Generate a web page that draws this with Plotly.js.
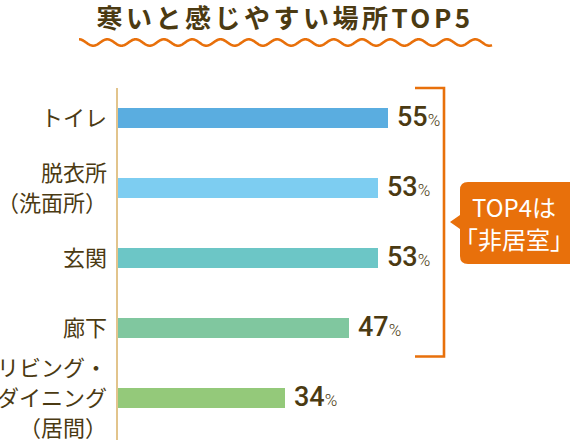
<!DOCTYPE html>
<html>
<head>
<meta charset="utf-8">
<script src="https://cdn.plot.ly/plotly-3.0.1.min.js"></script>
<style>
  html, body { margin: 0; padding: 0; background: #ffffff; }
  #chart { width: 570px; height: 440px; }
</style>
</head>
<body>
<div id="chart"></div>
<script>
// Places where people most often feel cold (top 5), share of respondents in %
const titleText = '寒いと感じやすい場所TOP5';
const categories = ['トイレ', '脱衣所<br>（洗面所）', '玄関', '廊下', 'リビング・<br>ダイニング<br>（居間）'];
const percents = [55, 53, 53, 47, 34];
const calloutLines = ['TOP4は', '「非居室」'];

const barColors = ['#5aade0', '#7dcdf1', '#6cc6c6', '#80c79f', '#94c97a'];
const ink = '#4b3a12';
const accent = '#e8700b';
const baseFont = '"Noto Sans CJK JP", "Noto Sans", sans-serif';

// Plot frame in pixels
const W = 570, H = 440;
const M = { l: 118, r: 0, t: 88, b: 0 };
const plotW = W - M.l - M.r;
const plotH = H - M.t - M.b;
const pxPerUnit = 4.91;        // horizontal scale: pixels per percentage point
const rowGap = 70;             // vertical spacing between categories
const firstRowPx = 118;        // centre of the first bar
const labelLineGap = 30;       // line spacing of the category labels

// pixel -> paper coordinates for decorative shapes
const px = x => (x - M.l) / plotW;
const py = y => (M.t + plotH - y) / plotH;
function pathFrom(points) {
  return points.map((p, i) => (i ? 'L' : 'M') + px(p[0]).toFixed(5) + ',' + py(p[1]).toFixed(5)).join(' ');
}

const idx = categories.map((_, i) => i);

const bars = {
  type: 'bar',
  orientation: 'h',
  x: percents,
  y: idx,
  width: 20 / rowGap,
  marker: { color: barColors, line: { width: 0 } },
  hoverinfo: 'skip',
  showlegend: false
};

// category labels, one annotation per line so the line spacing can be set
const categoryNotes = [];
categories.forEach((c, i) => {
  const lines = c.split('<br>');
  lines.forEach((t, k) => {
    categoryNotes.push({
      x: 0, y: i, xref: 'paper', yref: 'y',
      xanchor: 'right', yanchor: 'middle', xshift: -9,
      yshift: 2 - (k - (lines.length - 1) / 2) * labelLineGap,
      showarrow: false, text: t,
      font: { family: baseFont, size: 22, color: ink }
    });
  });
});

// value labels: large number + small percent sign
const valueNotes = percents.map((v, i) => ({
  x: v, y: i, xref: 'x', yref: 'y',
  xanchor: 'left', yanchor: 'middle', xshift: 7, yshift: 1,
  showarrow: false,
  text: '<span style="font-weight:500">' + v + '</span>' +
        '<span style="font-size:17px;font-weight:300">%</span>',
  font: { family: 'Roboto, "Noto Sans", sans-serif', size: 27, color: ink }
}));

// callout lines inside the speech bubble
const calloutNotes = calloutLines.map((t, i) => ({
  x: px(514), y: py(i === 0 ? 206 : 238.5), xref: 'paper', yref: 'paper',
  xanchor: 'center', yanchor: 'middle', showarrow: false,
  text: t,
  font: { family: baseFont, size: 24, color: '#ffffff' }
}));

// wavy underline below the title
const wave = [];
const x0 = 79, x1 = 492, period = 28.3, amp = 3.2, yc = 42.5;
for (let x = x0; x <= x1 + 0.01; x += 0.5) {
  wave.push([x, yc - amp * Math.cos(2 * Math.PI * (x - x0) / period)]);
}

// bracket grouping the first four rows
const bracket = [[415, 88], [444, 88], [444, 356.5], [415, 356.5]];

// speech bubble with rounded corners
const bx0 = 460, bx1 = 575, by0 = 182, by1 = 264, r = 8;
const bubblePath =
  'M' + px(bx0 + r) + ',' + py(by0) +
  ' L' + px(bx1) + ',' + py(by0) +
  ' L' + px(bx1) + ',' + py(by1) +
  ' L' + px(bx0 + r) + ',' + py(by1) +
  ' Q' + px(bx0) + ',' + py(by1) + ' ' + px(bx0) + ',' + py(by1 - r) +
  ' L' + px(bx0) + ',' + py(229) +
  ' L' + px(450) + ',' + py(222) +
  ' L' + px(bx0) + ',' + py(215) +
  ' L' + px(bx0) + ',' + py(by0 + r) +
  ' Q' + px(bx0) + ',' + py(by0) + ' ' + px(bx0 + r) + ',' + py(by0) + ' Z';

const layout = {
  width: W, height: H,
  margin: M,
  paper_bgcolor: '#ffffff',
  plot_bgcolor: '#ffffff',
  font: { family: baseFont, color: ink },
  title: {
    text: '<span style="letter-spacing:3.5px">' + titleText + '</span>',
    x: 0.5, xref: 'container', xanchor: 'center',
    y: 1 - 19 / H, yref: 'container', yanchor: 'middle',
    font: { family: baseFont, size: 26, color: ink, weight: 'bold' }
  },
  xaxis: {
    range: [0, plotW / pxPerUnit],
    showgrid: false, zeroline: false, showline: false,
    showticklabels: false, ticks: '', fixedrange: true
  },
  yaxis: {
    range: [categories.length - 1 + (M.t + plotH - (firstRowPx + rowGap * (categories.length - 1))) / rowGap,
            -(firstRowPx - M.t) / rowGap],
    tickvals: idx,
    showticklabels: false,
    ticks: '',
    showgrid: false, zeroline: false,
    showline: true, linecolor: '#e2c48c', linewidth: 2,
    fixedrange: true
  },
  bargap: 0,
  annotations: categoryNotes.concat(valueNotes, calloutNotes),
  shapes: [
    { type: 'path', xref: 'paper', yref: 'paper', path: pathFrom(wave),
      line: { color: accent, width: 2.6 }, layer: 'above' },
    { type: 'path', xref: 'paper', yref: 'paper', path: pathFrom(bracket),
      line: { color: accent, width: 2.6 }, layer: 'above' },
    { type: 'path', xref: 'paper', yref: 'paper', path: bubblePath,
      fillcolor: accent, line: { width: 0 }, layer: 'above' }
  ]
};

Plotly.newPlot('chart', [bars], layout, { displayModeBar: false, staticPlot: true });
</script>
</body>
</html>
